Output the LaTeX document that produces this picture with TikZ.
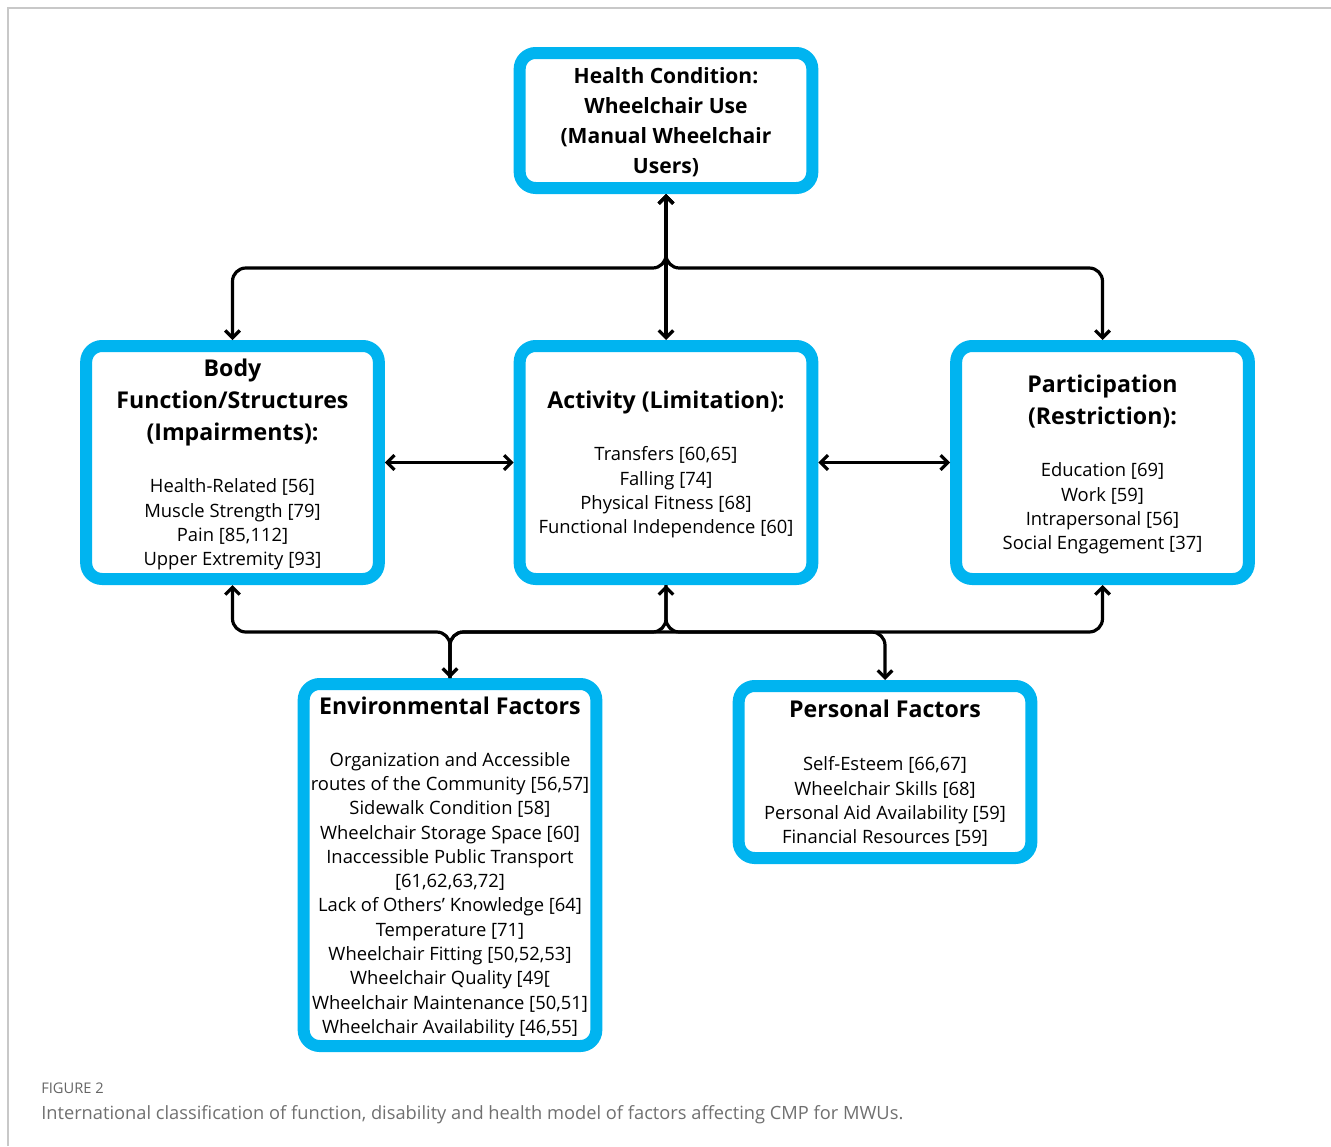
\documentclass[tikz,border=0pt]{standalone}
\usepackage{fontspec}
\setmainfont{Open Sans}
\usetikzlibrary{arrows.meta}
\definecolor{icfblue}{RGB}{0,180,240}
\definecolor{capgray}{RGB}{112,112,112}
\definecolor{framegray}{RGB}{200,200,200}
\newcommand{\hd}[1]{{\fontsize{17.35}{20}\selectfont\bfseries #1}}
\newcommand{\hh}[1]{{\fontsize{15.8}{20}\selectfont\bfseries #1}}
\newcommand{\lastln}[1]{\raisebox{0pt}[\height][0pt]{#1}}
\tikzset{
	icfbox/.style={draw=icfblue,line width=9pt,rounded corners=12pt,fill=white,align=center,inner sep=0pt,minimum width=219.5pt,font=\fontsize{13.8}{18.2}\selectfont},
	link/.style={line width=2.4pt,rounded corners=10pt,>={Straight Barb[length=5.5pt,width=11pt]}},
	captxt/.style={anchor=base west,inner sep=0pt,text=capgray},
}
\begin{document}
\begin{tikzpicture}[x=0.75pt,y=-0.75pt]
	\useasboundingbox (0,0) rectangle (1331,1146);
	\draw[framegray,line width=1.2pt] (8,1146) -- (8,8) -- (1331,8);
	\node[icfbox,minimum height=101.25pt](health) at (666,120.5){\hh{Health Condition:}\\[4.3pt]\hh{Wheelchair Use}\\[4.3pt]\hh{(Manual Wheelchair}\\[4.3pt]\lastln{\hh{Users)}}};
	\node[icfbox,minimum height=174.75pt](body) at (232.5,462.5){\hd{Body}\\[5.8pt]\hd{Function/Structures}\\[5.8pt]\hd{(Impairments):}\\[20.8pt]Health-Related [56]\\Muscle Strength [79]\\Pain [85,112]\\\lastln{Upper Extremity [93]}};
	\node[icfbox,minimum height=174.75pt](act) at (666,462.5){\hd{Activity (Limitation):}\\[20.8pt]Transfers [60,65]\\Falling [74]\\Physical Fitness [68]\\\lastln{Functional Independence [60]}};
	\node[icfbox,minimum height=174.75pt](par) at (1102.5,462.5){\hd{Participation}\\[5.8pt]\hd{(Restriction):}\\[20.8pt]Education [69]\\Work [59]\\Intrapersonal [56]\\\lastln{Social Engagement [37]}};
	\node[icfbox,minimum height=271.5pt](env) at (450,865){\hd{Environmental Factors}\\[20.8pt]Organization and Accessible\\routes of the Community [56,57]\\Sidewalk Condition [58]\\Wheelchair Storage Space [60]\\Inaccessible Public Transport\\{}[61,62,63,72]\\Lack of Others’ Knowledge [64]\\Temperature [71]\\Wheelchair Fitting [50,52,53]\\Wheelchair Quality [49[\\Wheelchair Maintenance [50,51]\\\lastln{Wheelchair Availability [46,55]}};
	\node[icfbox,minimum height=129pt](per) at (885,772){\hd{Personal Factors}\\[21.5pt]Self-Esteem [66,67]\\Wheelchair Skills [68]\\Personal Aid Availability [59]\\\lastln{Financial Resources [59]}};
	\coordinate (topbus) at (666,268);
	\coordinate (bus) at (666,632);
	% upper links
	\draw[link,<->](health)--(act);
	\draw[link,<->](body.north) |- (health.south|-topbus) -- (health.south);
	\draw[link,<->](par.north) |- (health.south|-topbus) -- (health.south);
	\draw[link,<->](body)--(act);
	\draw[link,<->](act)--(par);
	% lower links
	\draw[link,<->](body.south) |- (env.north|-bus) -- (env.north);
	\draw[link,->](env.north) -- (env.north|-bus) -| (par.south);
	\draw[link,->](env.north) -- (env.north|-bus) -| (act.south);
	\draw[link,->](act.south) -- (act.south|-bus) -| (per.north);
	\node[captxt,text=capgray!90!black,font=\fontsize{11}{12}\selectfont](fig) at (41,1093){FIGURE 2};
	\node[captxt,font=\fontsize{13.7}{16}\selectfont](cap) at (41,1119){International classification of function, disability and health model of factors affecting CMP for MWUs.};
\end{tikzpicture}
\end{document}
